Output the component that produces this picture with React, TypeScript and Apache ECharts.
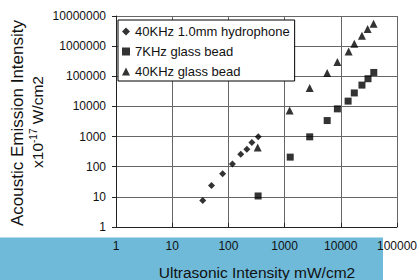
import React, { useEffect, useRef } from "react";
import * as echarts from "echarts";

const seriesNames = ["40KHz 1.0mm hydrophone", "7KHz glass bead", "40KHz glass bead"];

const hydrophone40: [number, number][] = [
  [35, 7.5], [50, 24], [79, 58], [118, 124], [166, 260], [213, 380], [262, 630], [340, 980],
];
const glassBead7: [number, number][] = [
  [338, 10.7], [1260, 208], [2800, 980], [5730, 3400], [8700, 8300], [13500, 15000],
  [17400, 28000], [23800, 51000], [30500, 83000], [38700, 134000],
];
const glassBead40: [number, number][] = [
  [332, 430], [1230, 7300], [2800, 40500], [5730, 128000], [8700, 300000], [13800, 665000],
  [17400, 1200000], [23800, 2230000], [30000, 3700000], [38300, 5500000],
];

const xTitle = "Ultrasonic Intensity mW/cm2";
const yTitle1 = "Acoustic Emission Intensity";

const FONT = "Liberation Sans, Arial, sans-serif";

export default function App() {
  const ref = useRef<HTMLDivElement>(null);
  useEffect(() => {
    document.body.style.margin = "0";
    if (!ref.current) return;
    const chart = echarts.init(ref.current, null, { renderer: "svg" });
    const fmt = (v: number) => String(Math.round(v));
    chart.setOption({
      animation: false,
      textStyle: { fontFamily: FONT },
      graphic: [
        { type: "rect", z: -10, shape: { x: 0, y: 237.5, width: 383, height: 42.5 }, style: { fill: "#6fb9d9" }, silent: true },
        {
          type: "text", x: 17, y: 123, rotation: Math.PI / 2,
          style: { text: yTitle1, fontSize: 17, fontFamily: FONT, fill: "#111", align: "center", verticalAlign: "middle" },
        },
        {
          type: "text", x: 37, y: 122, rotation: Math.PI / 2,
          style: {
            text: "{a|x10}{b|-17}{a| W/cm2}",
            fontFamily: FONT, fill: "#111", align: "center", verticalAlign: "middle",
            rich: {
              a: { fontSize: 15.5, fontFamily: FONT, fill: "#111", lineHeight: 18 },
              b: { fontSize: 10, fontFamily: FONT, fill: "#111", lineHeight: 18, verticalAlign: "top" },
            },
          },
        },
        {
          type: "text", x: 257, y: 272,
          style: { text: xTitle, fontSize: 15.5, fontFamily: FONT, fill: "#111", align: "center", verticalAlign: "middle" },
        },
      ],
      grid: { left: 116, right: 21, top: 16, bottom: 53 },
      legend: {
        orient: "vertical", left: 118, top: 20,
        data: [
          { name: seriesNames[0], icon: "diamond" },
          { name: seriesNames[1], icon: "rect" },
          { name: seriesNames[2], icon: "triangle" },
        ],
        itemWidth: 8, itemHeight: 8, itemGap: 7,
        padding: [5, 5, 3, 4],
        borderColor: "#000", borderWidth: 1, backgroundColor: "#fff",
        textStyle: { fontSize: 13, fontFamily: FONT, color: "#111" },
      },
      xAxis: {
        type: "log", logBase: 10, min: 1, max: 100000,
        axisLine: { lineStyle: { color: "#222" } },
        axisTick: { show: true, inside: true, length: 4, lineStyle: { color: "#222" } },
        axisLabel: { formatter: fmt, fontSize: 12, color: "#111", margin: 13, fontFamily: FONT },
        splitLine: { show: true, lineStyle: { color: "#666", width: 1 } },
        minorTick: { show: false },
      },
      yAxis: {
        type: "log", logBase: 10, min: 1, max: 10000000,
        axisLine: { show: true, lineStyle: { color: "#222" } },
        axisTick: { show: true, length: 4, lineStyle: { color: "#222" } },
        axisLabel: { formatter: fmt, fontSize: 12, color: "#111", margin: 10, fontFamily: FONT },
        splitLine: { show: true, lineStyle: { color: "#666", width: 1 } },
      },
      series: [
        { name: seriesNames[0], type: "scatter", symbol: "diamond", symbolSize: 7, data: hydrophone40, itemStyle: { color: "#000" } },
        { name: seriesNames[1], type: "scatter", symbol: "rect", symbolSize: 7, data: glassBead7, itemStyle: { color: "#000" } },
        { name: seriesNames[2], type: "scatter", symbol: "triangle", symbolSize: 8, data: glassBead40, itemStyle: { color: "#000" } },
      ],
    });
    return () => chart.dispose();
  }, []);
  return <div ref={ref} style={{ width: 420, height: 280 }} />;
}
